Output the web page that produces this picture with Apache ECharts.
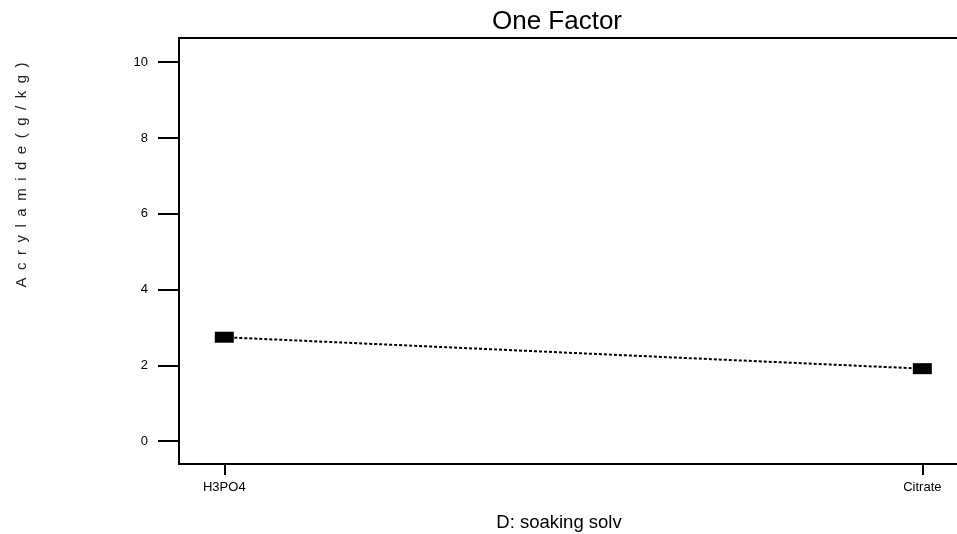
<!DOCTYPE html>
<html>
<head>
<meta charset="utf-8">
<script src="https://cdn.jsdelivr.net/npm/echarts@6/dist/echarts.min.js"></script>
<style>
  html, body { margin: 0; padding: 0; background: #fff; overflow: hidden; }
  /* plot box runs past the right edge of the window */
  #chart { width: 980px; height: 534px; }
</style>
</head>
<body>
<div id="chart"></div>
<script>
// Factor levels and mean acrylamide response at each level
const categories = ['H3PO4', 'Citrate'];
const values = [2.74, 1.91];
const yTicks = [0, 2, 4, 6, 8, 10];

const titleText = 'One Factor';
const xName = 'D: soaking solv';
// letter-spaced axis title (en spaces between glyphs)
const yName = 'Acrylamide(g/kg)'.split('').join('\u2002');

const FONT = 'Liberation Sans, Arial, sans-serif';

const points = categories.map((c, i) => [i, values[i]]);
const catIndex = categories.map((c, i) => i);

const chart = echarts.init(document.getElementById('chart'), null, { renderer: 'canvas' });

chart.setOption({
  animation: false,
  backgroundColor: '#ffffff',
  grid: {
    left: 179, top: 38, bottom: 70, right: 13,
    show: true, borderColor: '#000', borderWidth: 2, backgroundColor: 'transparent'
  },
  xAxis: {
    type: 'value',
    min: -0.0649,
    max: 1.064,
    splitLine: { show: false },
    axisLine: { show: true, onZero: false, lineStyle: { color: '#000', width: 2 } },
    axisTick: {
      show: true, inside: false, length: 11, customValues: catIndex,
      lineStyle: { color: '#000', width: 2 }
    },
    axisLabel: {
      customValues: catIndex,
      margin: 17,
      color: '#000',
      fontFamily: FONT,
      fontSize: 13,
      formatter: v => categories[Math.round(v)] ?? ''
    }
  },
  yAxis: {
    type: 'value',
    min: -0.607,
    max: 10.64,
    splitLine: { show: false },
    axisLine: { show: true, onZero: false, lineStyle: { color: '#000', width: 2 } },
    axisTick: {
      show: true, inside: false, length: 21, customValues: yTicks,
      lineStyle: { color: '#000', width: 2 }
    },
    axisLabel: {
      customValues: yTicks,
      margin: 31,
      color: '#000',
      fontFamily: FONT,
      fontSize: 13
    }
  },
  graphic: [
    {
      type: 'text',
      x: 557, y: 22,
      style: {
        text: titleText, fill: '#000', font: '26px ' + FONT,
        align: 'center', verticalAlign: 'middle'
      }
    },
    {
      type: 'text',
      x: 559, y: 523,
      style: {
        text: xName, fill: '#000', font: '18.5px ' + FONT,
        align: 'center', verticalAlign: 'middle'
      }
    },
    {
      type: 'text',
      x: 22, y: 175,
      rotation: Math.PI / 2,
      style: {
        text: yName, fill: '#222', font: '15px ' + FONT,
        align: 'center', verticalAlign: 'middle'
      }
    }
  ],
  series: [
    {
      type: 'line',
      data: points,
      symbol: 'rect',
      symbolSize: [19, 11],
      itemStyle: { color: '#000' },
      lineStyle: { color: '#000', width: 2, type: [3, 2] },
      z: 3
    }
  ]
});
</script>
</body>
</html>
